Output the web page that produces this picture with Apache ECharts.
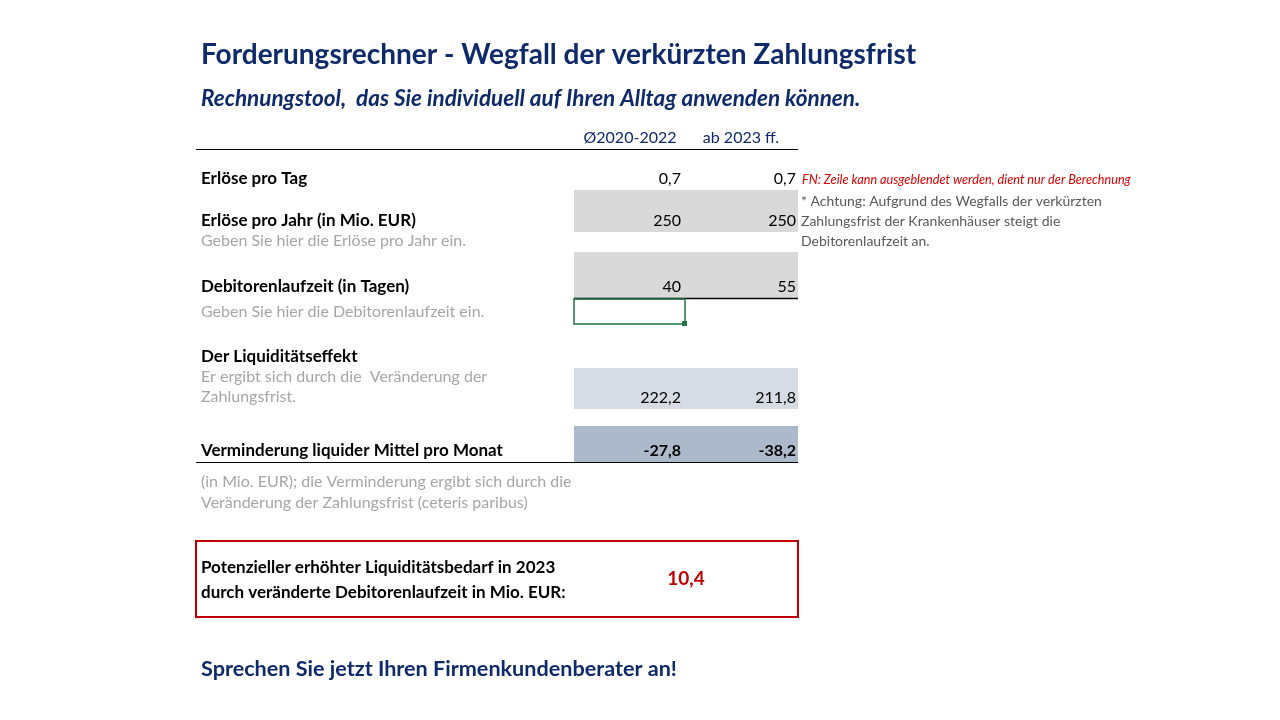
<!DOCTYPE html>
<html>
<head>
<meta charset="utf-8">
<script src="https://cdn.jsdelivr.net/npm/echarts@6/dist/echarts.min.js"></script>
<style>html,body{margin:0;padding:0;background:#fff}#main{width:1280px;height:720px}</style>
</head>
<body>
<div id="main"></div>
<script>
// Kopfzeile
var columns = ['Ø2020-2022', 'ab 2023 ff.'];
// Zeilen: Bezeichnung, Werte je Spalte
var rowLabels = ['Erlöse pro Tag', 'Erlöse pro Jahr (in Mio. EUR)', 'Debitorenlaufzeit (in Tagen)', '', 'Verminderung liquider Mittel pro Monat'];
var valuesPast = ['0,7', '250', '40', '222,2', '-27,8'];
var valuesNew = ['0,7', '250', '55', '211,8', '-38,2'];
var rowY = [179, 221, 287, 398, 451];
var rowFill = [null, '#d9d9d9', '#d9d9d9', '#d6dce4', '#acb9ca'];
var rowBoxTop = [0, 190, 252, 368, 426];
var resultValue = '10,4';

var navy = '#0e2a6b';
var grey = '#a6a6a6';
var font = 'Lato, "Open Sans", sans-serif';

var g = [];
function txt(x, y, s, opt) {
    opt = opt || {};
    g.push({
        type: 'text', x: x, y: y,
        style: {
            text: s, fill: opt.color || '#000', align: opt.align || 'left', verticalAlign: 'middle',
            font: (opt.italic ? 'italic ' : '') + (opt.bold ? 'bold ' : '') + (opt.size || 16) + 'px ' + font
        }
    });
}
function rect(x, y, w, h, fill, stroke, lw) {
    g.push({type: 'rect', shape: {x: x, y: y, width: w, height: h},
        style: {fill: fill || 'none', stroke: stroke || null, lineWidth: lw || 0}});
}
function line(x1, y1, x2, y2, lw) {
    g.push({type: 'line', shape: {x1: x1, y1: y1, x2: x2, y2: y2}, style: {stroke: '#000', lineWidth: lw || 1}});
}

txt(201, 55, 'Forderungsrechner - Wegfall der verkürzten Zahlungsfrist', {bold: true, size: 28, color: navy});
txt(201, 99, 'Rechnungstool,  das Sie individuell auf Ihren Alltag anwenden können.', {bold: true, italic: true, size: 22.5, color: navy});

txt(630, 138, columns[0], {align: 'center', color: navy});
txt(741, 138, columns[1], {align: 'center', color: navy});
line(196, 149.5, 798, 149.5);

for (var i = 0; i < rowLabels.length; i++) {
    if (rowFill[i]) {
        rect(574, rowBoxTop[i], 112, rowY[i] + 11 - rowBoxTop[i], rowFill[i]);
        rect(686, rowBoxTop[i], 112, rowY[i] + 11 - rowBoxTop[i], rowFill[i]);
    }
    var bold = i === 4;
    if (rowLabels[i]) txt(201, rowY[i], rowLabels[i], {bold: true, size: 17});
    txt(681, rowY[i], valuesPast[i], {align: 'right', bold: bold});
    txt(796, rowY[i], valuesNew[i], {align: 'right', bold: bold});
}
line(574, 298.5, 798, 298.5, 1.5);
line(196, 462.5, 798, 462.5);

// markierte Zelle
rect(574, 299, 111, 25, null, '#217346', 1.5);
rect(682, 321, 5, 5, '#217346');

txt(201, 241, 'Geben Sie hier die Erlöse pro Jahr ein.', {color: grey});
txt(201, 312, 'Geben Sie hier die Debitorenlaufzeit ein.', {color: grey});
txt(201, 357, 'Der Liquiditätseffekt', {bold: true, size: 17});
txt(201, 377, 'Er ergibt sich durch die  Veränderung der', {color: grey});
txt(201, 397, 'Zahlungsfrist.', {color: grey});
txt(201, 482, '(in Mio. EUR); die Verminderung ergibt sich durch die', {color: grey});
txt(201, 503, 'Veränderung der Zahlungsfrist (ceteris paribus)', {color: grey});

rect(196, 541, 602, 76, null, '#c00000', 2);
txt(201, 568, 'Potenzieller erhöhter Liquiditätsbedarf in 2023', {bold: true, size: 17});
txt(201, 593, 'durch veränderte Debitorenlaufzeit in Mio. EUR:', {bold: true, size: 17});
txt(686, 579, resultValue, {bold: true, size: 19, align: 'center', color: '#c00000'});

txt(201, 669, 'Sprechen Sie jetzt Ihren Firmenkundenberater an!', {bold: true, size: 21.6, color: navy});

txt(802, 180, 'FN: Zeile kann ausgeblendet werden, dient nur der Berechnung', {italic: true, size: 12.7, color: '#e00000'});
txt(801, 201, '* Achtung: Aufgrund des Wegfalls der verkürzten', {size: 14, color: '#595959'});
txt(801, 221, 'Zahlungsfrist der Krankenhäuser steigt die', {size: 14, color: '#595959'});
txt(801, 241, 'Debitorenlaufzeit an.', {size: 14, color: '#595959'});

var chart = echarts.init(document.getElementById('main'));
chart.setOption({backgroundColor: '#fff', graphic: {elements: g}});
</script>
</body>
</html>
